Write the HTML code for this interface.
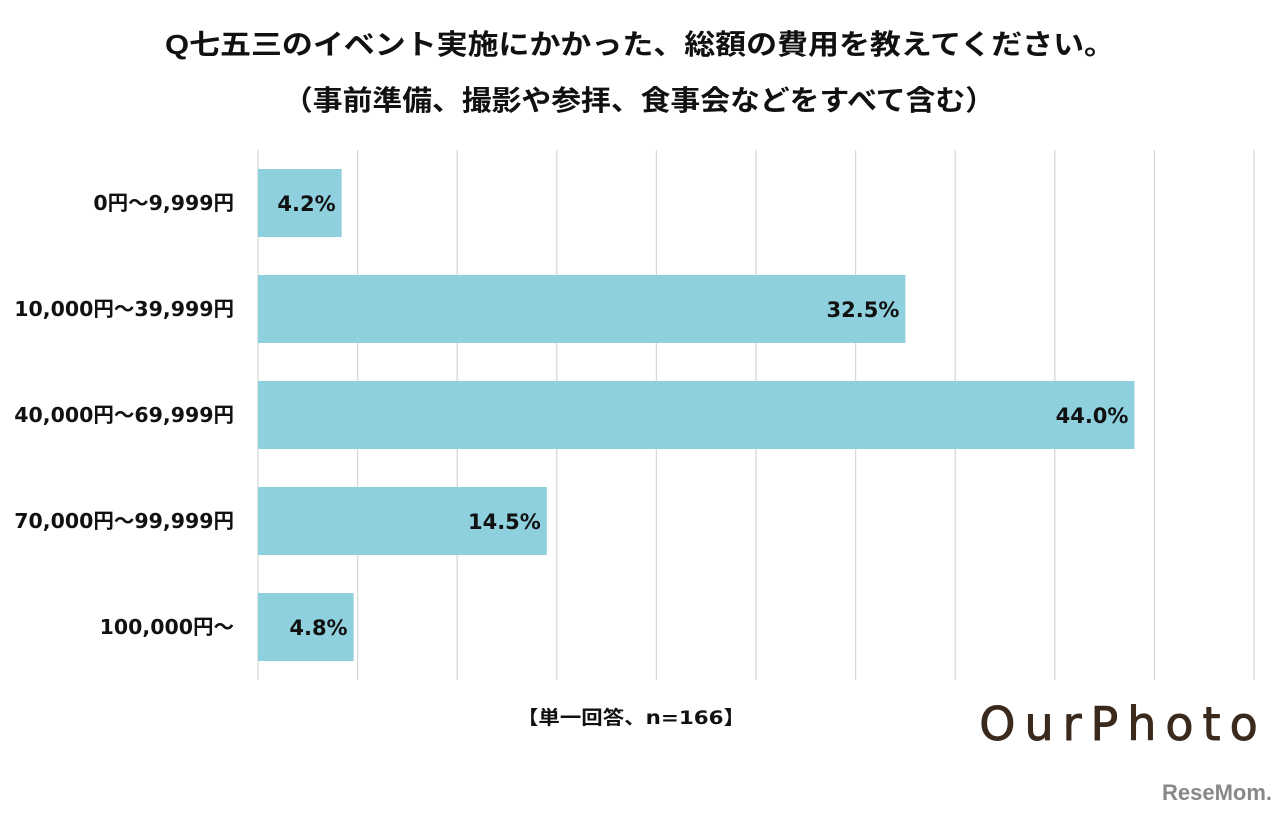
<!DOCTYPE html>
<html><head><meta charset="utf-8"><style>
body{margin:0;width:1280px;height:816px;background:#fff;overflow:hidden;font-family:"Liberation Sans","Noto Sans CJK JP",sans-serif;}
svg{position:absolute;left:0;top:0}
.w{font-family:"DejaVu Sans","Noto Sans CJK JP",sans-serif;font-weight:bold}
</style></head><body>
<svg width="1280" height="816">
<text x="165" y="54" textLength="950" lengthAdjust="spacingAndGlyphs" font-size="28" font-weight="bold" fill="#111">Q七五三のイベント実施にかかった、総額の費用を教えてください。</text>
<text x="283" y="110" textLength="712" lengthAdjust="spacingAndGlyphs" font-size="28" font-weight="bold" fill="#111">（事前準備、撮影や参拝、食事会などをすべて含む）</text>
<g id="grid"></g><g id="bars"></g>
<text class="w" x="517" y="724" textLength="228" lengthAdjust="spacingAndGlyphs" font-size="19" fill="#111">【単一回答、n=166】</text>
<text x="1123" y="740" text-anchor="middle" font-size="46" fill="#3a2a1e" stroke="#3a2a1e" stroke-width="0.9" stroke-linejoin="round" letter-spacing="9" font-family="DejaVu Sans">OurPhoto</text>
<text x="1217" y="800" text-anchor="middle" font-size="22" font-weight="bold" fill="#888">ReseMom.</text>
</svg>
<script>
const categories=["0円～9,999円","10,000円～39,999円","40,000円～69,999円","70,000円～99,999円","100,000円～"];
const values=[4.2,32.5,44.0,14.5,4.8];
const ticks=[0,5,10,15,20,25,30,35,40,45,50];
const NS="http://www.w3.org/2000/svg";
const x0=258,x1=1254,xmax=50,top0=150,bot=680;
const xs=v=>x0+(x1-x0)*v/xmax;
const band=(bot-top0)/categories.length;
const grid=document.getElementById('grid'),bars=document.getElementById('bars');
function mk(tag,a,p){const e=document.createElementNS(NS,tag);for(const k in a)e.setAttribute(k,a[k]);p.appendChild(e);return e;}
ticks.forEach(t=>{const l=mk('line',{x1:xs(t),x2:xs(t),y1:top0,y2:bot,stroke:'#d9d9d9','stroke-width':1.3},grid);

});
categories.forEach((c,i)=>{const cy=top0+band*(i+0.5);
const r=mk('rect',{x:x0,y:cy-34,width:xs(values[i])-x0,height:68,fill:'#8ed0dd'},bars);


const v=mk('text',{x:xs(values[i])-6,y:cy+8,'text-anchor':'end','font-size':21,class:'w',fill:'#111'},bars);
v.textContent=values[i].toFixed(1)+'%';


const lb=mk('text',{x:234,y:cy+7,'text-anchor':'end','font-size':20.5,class:'w',fill:'#111'},bars);
lb.textContent=c;

});
</script>
</body></html>
